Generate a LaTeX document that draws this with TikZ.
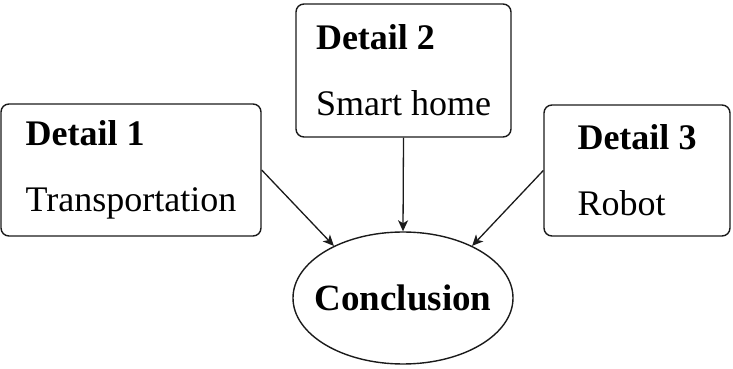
\documentclass[tikz,border=0pt]{standalone}
\usepackage{fontspec}
\setmainfont{Liberation Serif}
\usepackage{xcolor}
\definecolor{DiagInk}{HTML}{1A1A1A}
\usepackage{tikz}
\usetikzlibrary{arrows.meta,shapes.geometric}

\begin{document}
\begin{tikzpicture}[
  x=1pt,y=1pt,
  detail/.style={draw=DiagInk,line width=1.4pt,rounded corners=8pt,align=left,inner sep=0pt,font=\fontsize{36}{43}\selectfont},
  concl/.style={draw=DiagInk,line width=1.4pt,ellipse,inner xsep=-12pt,inner ysep=0pt,minimum width=220pt,minimum height=132pt,font=\fontsize{37}{44}\selectfont\bfseries},
  link/.style={draw=DiagInk,line width=1.3pt,-{Stealth[length=11pt,width=10pt,inset=3pt]}}
]
  \useasboundingbox (0,0) rectangle (733,369);
  \node[detail,minimum width=260pt,minimum height=132pt] (det1) at (131,199) {\textbf{Detail 1}\\[23pt]Transportation};
  \node[detail,minimum width=215pt,minimum height=133pt] (det2) at (403.5,298.5) {\textbf{Detail 2}\\[23pt]Smart home};
  \node[detail,minimum width=186pt,minimum height=131pt] (det3) at (637,198.5) {\textbf{Detail 3}\\[23pt]Robot};
  \node[concl] (concl) at (403,71) {Conclusion};
  \draw[link] (det1.east) -- (concl.143);
  \draw[link] (det2.south) -- (concl.north);
  \draw[link] (det3.west) -- (concl.37);
\end{tikzpicture}
\end{document}
